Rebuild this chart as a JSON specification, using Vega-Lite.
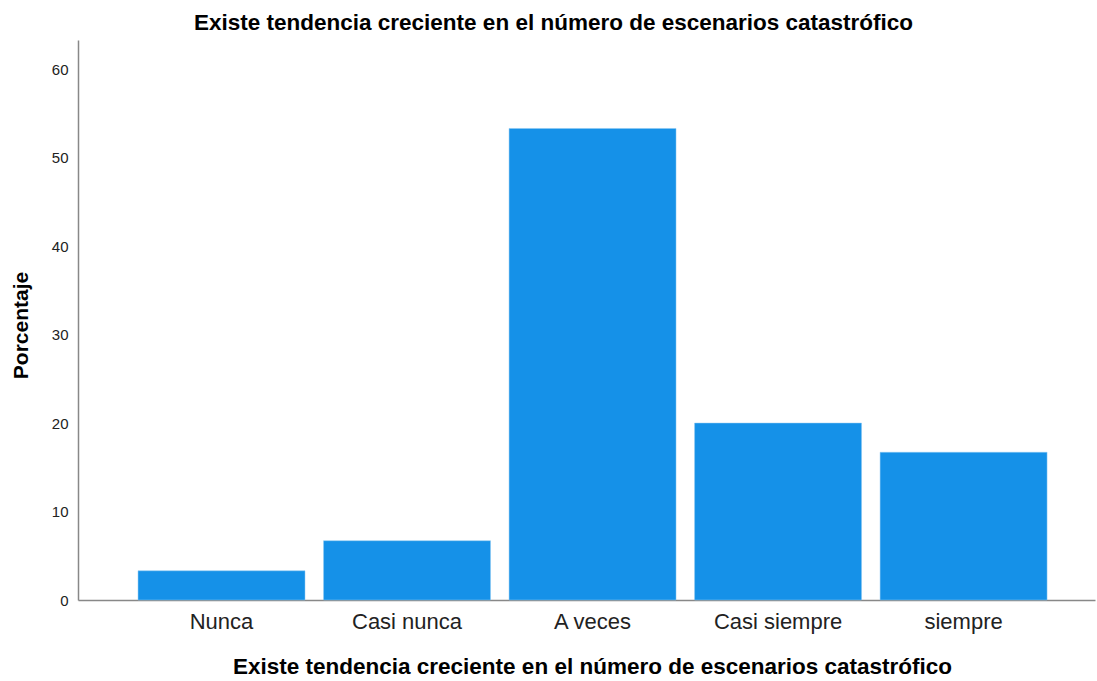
{
  "$schema": "https://vega.github.io/schema/vega-lite/v6.json",
  "width": 1017,
  "height": 560,
  "autosize": {"type": "none"},
  "padding": {"left": 78, "top": 40, "right": 2, "bottom": 81},
  "background": "white",
  "title": {
    "text": "Existe tendencia creciente en el número de escenarios catastrófico",
    "font": "Liberation Sans",
    "fontSize": 22.5,
    "fontWeight": "bold",
    "color": "#000000",
    "anchor": "middle",
    "dx": -33,
    "offset": 6
  },
  "data": {
    "values": [
      {"categoria": "Nunca", "porcentaje": 3.3},
      {"categoria": "Casi nunca", "porcentaje": 6.7},
      {"categoria": "A veces", "porcentaje": 53.3},
      {"categoria": "Casi siempre", "porcentaje": 20.0},
      {"categoria": "siempre", "porcentaje": 16.7}
    ]
  },
  "mark": {"type": "bar", "color": "#1591E8", "stroke": "#8CC8F2", "strokeWidth": 0.5},
  "encoding": {
    "x": {
      "field": "categoria",
      "type": "nominal",
      "sort": null,
      "scale": {"paddingInner": 0.1, "paddingOuter": 0.291, "align": 0.556},
      "axis": {
        "title": "Existe tendencia creciente en el número de escenarios catastrófico",
        "titleFont": "Liberation Sans",
        "titleFontSize": 22.5,
        "titleFontWeight": "bold",
        "titleColor": "#000000",
        "titlePadding": 23,
        "titleX": 514,
        "labelFont": "Liberation Sans",
        "labelFontSize": 22,
        "labelColor": "#222222",
        "labelAngle": 0,
        "labelPadding": 11,
        "ticks": false,
        "domainColor": "#888888",
        "domainWidth": 1.5,
        "grid": false
      }
    },
    "y": {
      "field": "porcentaje",
      "type": "quantitative",
      "scale": {"domain": [0, 63.3], "nice": false},
      "axis": {
        "title": "Porcentaje",
        "titleFont": "Liberation Sans",
        "titleFontSize": 21,
        "titleFontWeight": "bold",
        "titleColor": "#000000",
        "titlePadding": 20,
        "titleY": 285,
        "values": [0, 10, 20, 30, 40, 50, 60],
        "labelFont": "Liberation Sans",
        "labelFontSize": 15,
        "labelColor": "#222222",
        "labelPadding": 10,
        "ticks": false,
        "domainColor": "#888888",
        "domainWidth": 1.5,
        "grid": false
      }
    }
  },
  "config": {"view": {"stroke": null}}
}
